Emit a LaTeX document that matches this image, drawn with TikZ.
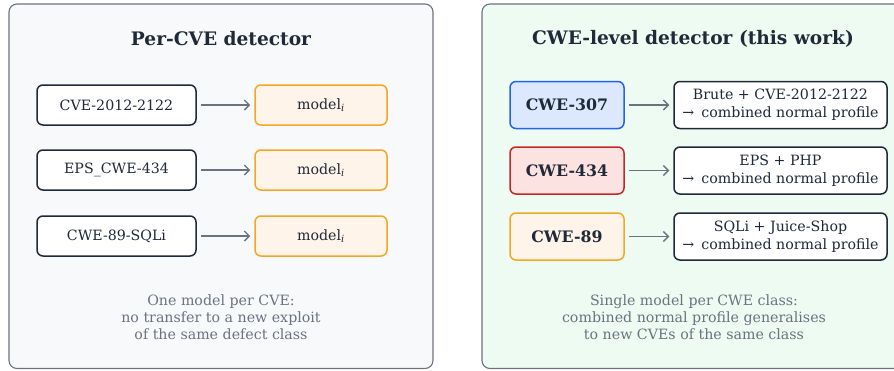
\documentclass[tikz,border=0pt]{standalone}
\usepackage{fontspec}
\setmainfont{DejaVu Serif}
\usetikzlibrary{arrows.meta}
\definecolor{panelL}{HTML}{F8F9FB}
\definecolor{panelR}{HTML}{EDFBF2}
\definecolor{panelB}{HTML}{6B7280}
\definecolor{ink}{HTML}{1F2937}
\definecolor{orng}{HTML}{F5A623}
\definecolor{orngF}{HTML}{FFF4EA}
\definecolor{blu}{HTML}{2563EB}
\definecolor{bluF}{HTML}{DBE8FD}
\definecolor{rd}{HTML}{C62828}
\definecolor{rdF}{HTML}{FDE2E2}
\definecolor{arr}{HTML}{6B7280}
\tikzset{
  panel/.style={draw=panelB, line width=1.1pt, rounded corners=8pt},
  plain/.style={draw=ink, fill=white, line width=1.5pt, rounded corners=6pt, text=ink, font=\fontsize{14.2}{18}\selectfont, align=center, inner sep=0pt},
  modelbox/.style={draw=orng, fill=orngF, line width=1.5pt, rounded corners=6pt, text=ink, font=\fontsize{14.2}{18}\selectfont, inner sep=0pt},
  cwe/.style={line width=1.5pt, rounded corners=6pt, text=ink, font=\bfseries\fontsize{15.8}{18}\selectfont, inner sep=0pt, minimum width=114pt, minimum height=47pt},
  title/.style={text=ink, font=\bfseries\fontsize{18.6}{22}\selectfont},
  caption/.style={text=panelB, font=\fontsize{14.2}{17}\selectfont, align=center},
  conn/.style={draw=arr, line width=1.3pt, -{Straight Barb[length=5pt,width=10pt,line width=1.3pt]}},
}
\begin{document}
\begin{tikzpicture}[x=1pt,y=-1pt]
\clip (0,0) rectangle (894,370);
\useasboundingbox (0,0) rectangle (894,370);
% panels
\draw[panel, fill=panelL] (9,4) rectangle (433,368.5);
\draw[panel, fill=panelR] (482,4) rectangle (910,368.5);
\node[title] (tL) at (221,38.5) {Per-CVE detector};
\node[title] (tR) at (693,38.5) {CWE-level detector (this work)};
% left rows
\foreach \n/\t/\y in {a/CVE-2012-2122/105, b/EPS\_CWE-434/170, c/CWE-89-SQLi/236}{
  \node[plain, minimum width=159pt, minimum height=40pt] (L\n) at (116.5,\y) {\t};
  \node[modelbox, minimum width=132pt, minimum height=40pt] (M\n) at (321,\y) {model\textsubscript{\textit{i}}};
  \draw[conn] ([xshift=4pt]L\n.east) -- ([xshift=-4pt]M\n.west);
}
% right rows
\node[cwe, draw=blu, fill=bluF] (C1) at (567,105) {CWE-307};
\node[cwe, draw=rd, fill=rdF] (C2) at (567,170.5) {CWE-434};
\node[cwe, draw=orng, fill=orngF] (C3) at (567,236.5) {CWE-89};
\node[plain, minimum width=213pt, minimum height=47pt] (P1) at (780.5,105) {Brute + CVE-2012-2122\\→\enspace combined normal profile};
\node[plain, minimum width=213pt, minimum height=47pt] (P2) at (780.5,170.5) {EPS + PHP\\→\enspace combined normal profile};
\node[plain, minimum width=213pt, minimum height=47pt] (P3) at (780.5,236.5) {SQLi + Juice-Shop\\→\enspace combined normal profile};
\foreach \i in {1,2,3}{
  \draw[conn] ([xshift=4pt]C\i.east) -- ([xshift=-4pt]P\i.west);
}
% captions
\node[caption] (capL) at (221,317.5) {One model per CVE:\\no transfer to a new exploit\\of the same defect class};
\node[caption] (capR) at (694,317.5) {Single model per CWE class:\\combined normal profile generalises\\to new CVEs of the same class};
\end{tikzpicture}
\end{document}
